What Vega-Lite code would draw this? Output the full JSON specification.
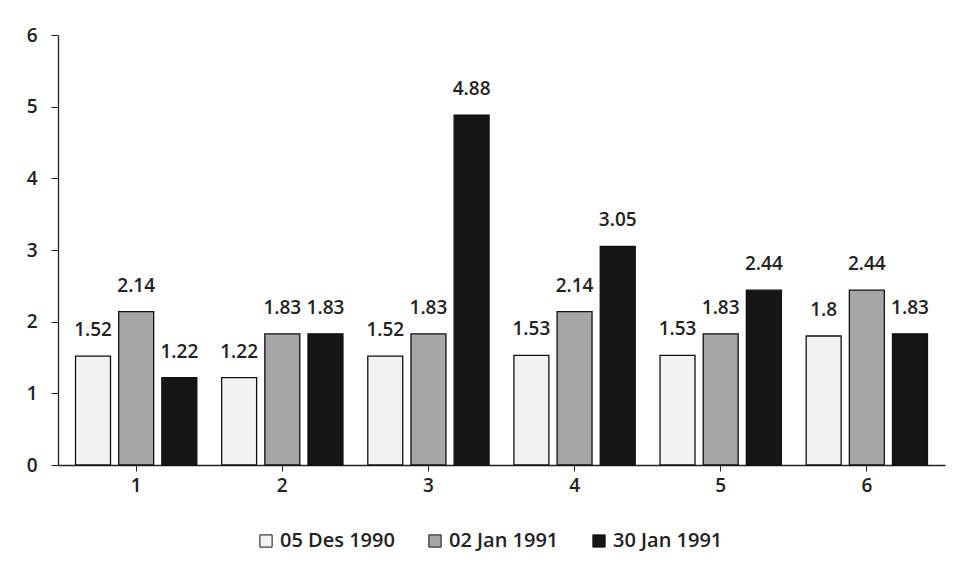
{
  "$schema": "https://vega.github.io/schema/vega-lite/v6.json",
  "width": 887,
  "height": 430,
  "autosize": {"type": "none"},
  "padding": {"left": 58, "top": 35, "right": 15, "bottom": 114},
  "background": "white",
  "data": {
    "values": [
      {"g": "1", "s": "05 Des 1990", "v": 1.52},
      {"g": "1", "s": "02 Jan 1991", "v": 2.14},
      {"g": "1", "s": "30 Jan 1991", "v": 1.22},
      {"g": "2", "s": "05 Des 1990", "v": 1.22},
      {"g": "2", "s": "02 Jan 1991", "v": 1.83},
      {"g": "2", "s": "30 Jan 1991", "v": 1.83},
      {"g": "3", "s": "05 Des 1990", "v": 1.52},
      {"g": "3", "s": "02 Jan 1991", "v": 1.83},
      {"g": "3", "s": "30 Jan 1991", "v": 4.88},
      {"g": "4", "s": "05 Des 1990", "v": 1.53},
      {"g": "4", "s": "02 Jan 1991", "v": 2.14},
      {"g": "4", "s": "30 Jan 1991", "v": 3.05},
      {"g": "5", "s": "05 Des 1990", "v": 1.53},
      {"g": "5", "s": "02 Jan 1991", "v": 1.83},
      {"g": "5", "s": "30 Jan 1991", "v": 2.44},
      {"g": "6", "s": "05 Des 1990", "v": 1.8},
      {"g": "6", "s": "02 Jan 1991", "v": 2.44},
      {"g": "6", "s": "30 Jan 1991", "v": 1.83}
    ]
  },
  "encoding": {
    "x": {
      "field": "g",
      "type": "ordinal",
      "scale": {"paddingInner": 0.17, "paddingOuter": 0.12},
      "axis": {
        "title": null,
        "labelAngle": 0,
        "labelFont": "Open Sans",
        "labelFontWeight": 600,
        "labelFontSize": 19,
        "labelColor": "#222",
        "labelPadding": 5,
        "domainColor": "#222",
        "domainWidth": 1.3,
        "tickColor": "#222",
        "tickSize": 6
      }
    },
    "xOffset": {
      "field": "s",
      "type": "nominal",
      "sort": ["05 Des 1990", "02 Jan 1991", "30 Jan 1991"],
      "scale": {"paddingInner": 0.19}
    },
    "y": {
      "field": "v",
      "type": "quantitative",
      "scale": {"domain": [0, 6], "nice": false},
      "axis": {
        "title": null,
        "grid": false,
        "tickCount": 6,
        "labelFont": "Open Sans",
        "labelFontWeight": 600,
        "labelFontSize": 19,
        "labelColor": "#222",
        "labelPadding": 14,
        "domainColor": "#222",
        "domainWidth": 1.3,
        "tickColor": "#222",
        "tickSize": 7
      }
    }
  },
  "layer": [
    {
      "mark": {"type": "bar", "stroke": "#111", "strokeWidth": 1.3},
      "encoding": {
        "fill": {
          "field": "s",
          "type": "nominal",
          "sort": ["05 Des 1990", "02 Jan 1991", "30 Jan 1991"],
          "scale": {
            "domain": ["05 Des 1990", "02 Jan 1991", "30 Jan 1991"],
            "range": ["#f2f2f2", "#a6a6a6", "#161616"]
          },
          "legend": {
            "title": null,
            "orient": "none",
            "direction": "horizontal",
            "legendX": 198,
            "legendY": 496,
            "symbolType": "square",
            "symbolSize": 150,
            "symbolStrokeColor": "#111",
            "symbolStrokeWidth": 1,
            "labelFont": "Open Sans",
            "labelFontWeight": 600,
            "labelFontSize": 20,
            "labelColor": "#222",
            "labelOffset": 4,
            "columnPadding": 30
          }
        }
      }
    },
    {
      "mark": {
        "type": "text",
        "baseline": "alphabetic",
        "dy": -20,
        "font": "Open Sans",
        "fontWeight": 600,
        "fontSize": 19,
        "color": "#222"
      },
      "encoding": {
        "text": {"field": "v", "type": "quantitative"}
      }
    }
  ],
  "config": {"view": {"stroke": null}}
}
